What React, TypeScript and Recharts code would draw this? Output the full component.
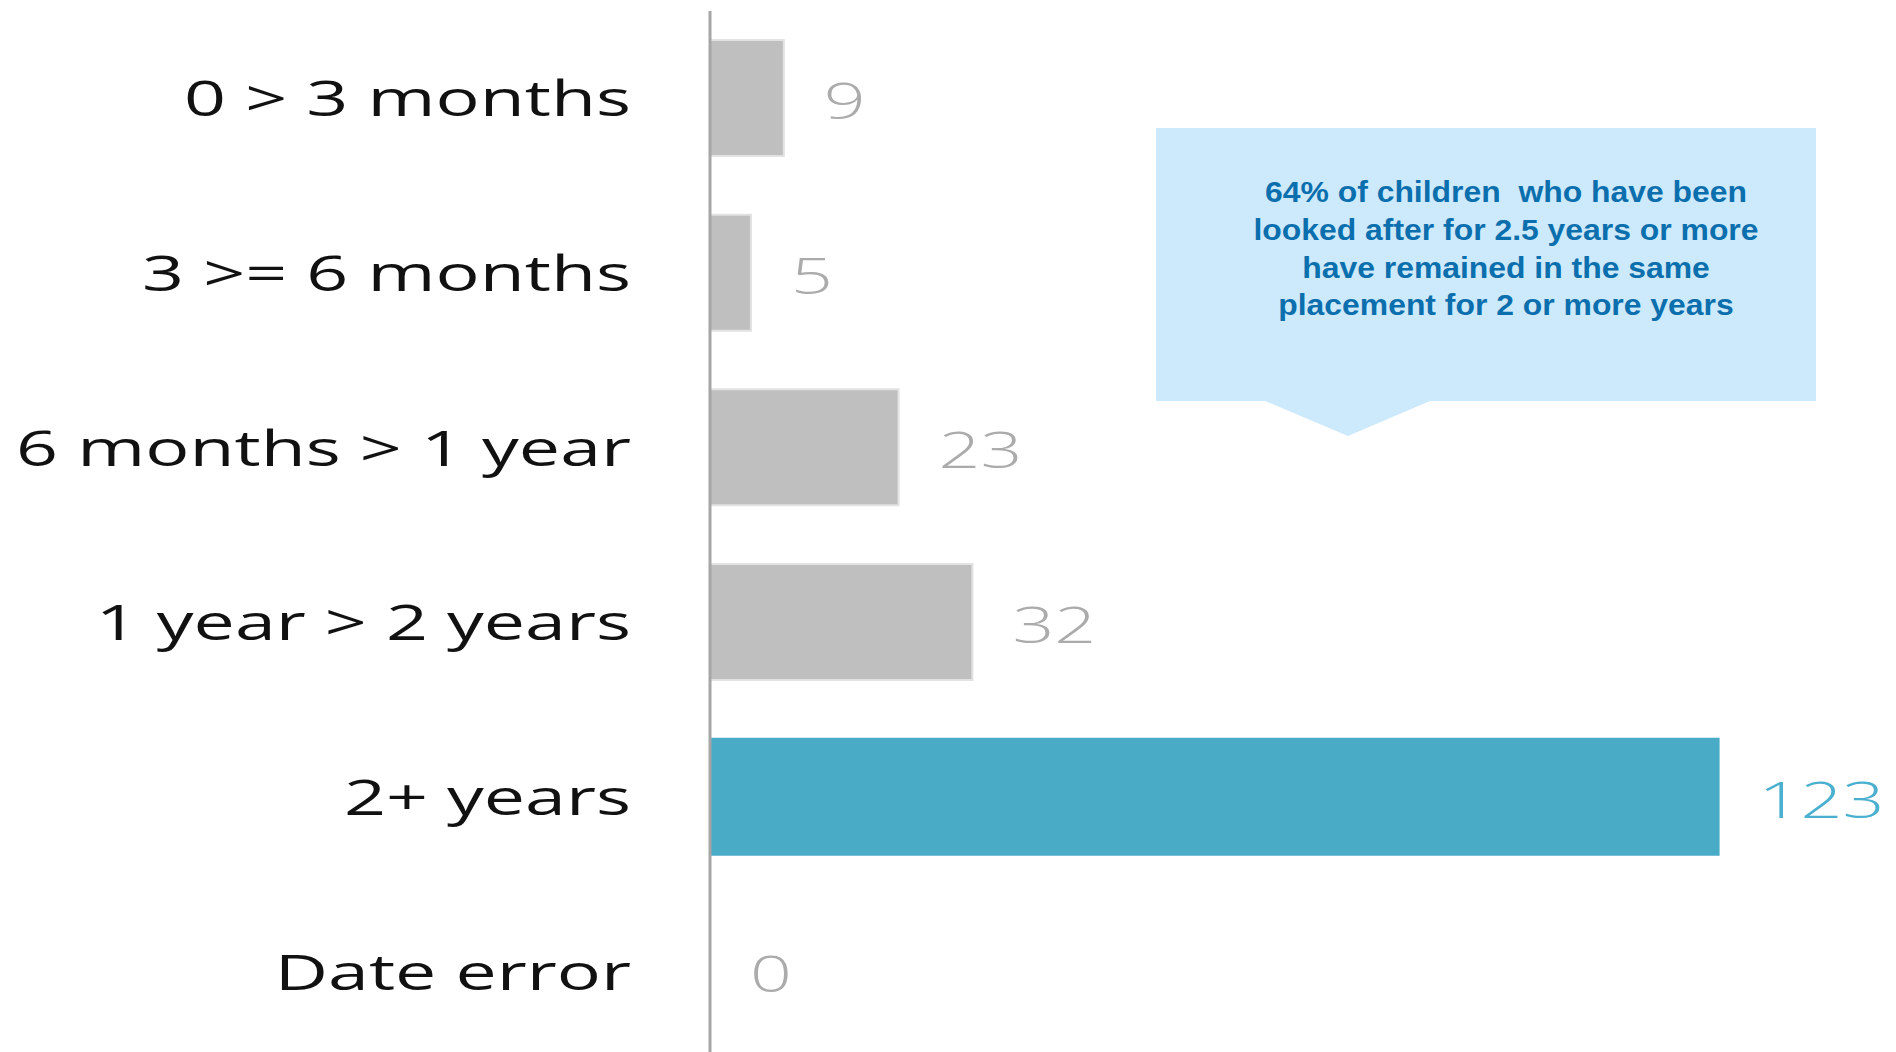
import { BarChart, Bar, XAxis, YAxis, Cell, LabelList } from "recharts";

// placement duration buckets
const categories = [
  "0 > 3 months",
  "3 >= 6 months",
  "6 months > 1 year",
  "1 year > 2 years",
  "2+ years",
  "Date error",
];
const counts = [9, 5, 23, 32, 123, 0];
const highlighted = "2+ years";

const calloutLines = [
  "64% of children  who have been",
  "looked after for 2.5 years or more",
  "have remained in the same",
  "placement for 2 or more years",
];

const data = categories.map((category, i) => ({ category, count: counts[i] }));

const GREY = "#bfbfbf";
const BLUE = "#4aabc6";
// the source picture is stretched sideways, text included
const STRETCH = 1.47;

function CategoryTick(props: any) {
  const { x, y, payload } = props;
  return (
    <g transform={`translate(${x - 79},${y + 18}) scale(${STRETCH},1)`}>
      <text textAnchor="end" fontFamily="'Open Sans', sans-serif" fontSize={50} fill="#111">
        {payload.value}
      </text>
    </g>
  );
}

function ValueLabel(props: any) {
  const vb = props.viewBox ?? props;
  const { x, y, height } = vb;
  const idx = props.index ?? counts.indexOf(props.value);
  const isHi = categories[idx] === highlighted;
  // zero bars get a 1px min size, so measure from the value itself
  const w = props.value === 0 ? 0 : vb.width;
  return (
    <g transform={`translate(${x + w + 40},${y + height / 2 + 21}) scale(${STRETCH},1)`}>
      <text
        fontFamily="'Open Sans', sans-serif"
        fontWeight={300}
        fontSize={50}
        fill={isHi ? "#4bb0cf" : "#ababab"}
      >
        {props.value}
      </text>
    </g>
  );
}

export default function App() {
  return (
    <div style={{ position: "absolute", left: 0, top: 0, width: 1896, height: 1052, overflow: "hidden", background: "#fff" }}>
      <BarChart
        width={1896}
        height={1060}
        data={data}
        layout="vertical"
        margin={{ top: 11, right: 38, bottom: 1, left: 0 }}
      >
        <XAxis type="number" domain={[0, 140]} hide />
        <YAxis
          type="category"
          dataKey="category"
          width={710}
          interval={0}
          tickLine={false}
          tickSize={0}
          tickMargin={0}
          axisLine={{ stroke: "#a6a6a6", strokeWidth: 3 }}
          tick={<CategoryTick />}
        />
        <Bar dataKey="count" barSize={116} minPointSize={1} isAnimationActive={false}>
          {data.map((d) => (
            <Cell
              key={d.category}
              fill={d.category === highlighted ? BLUE : GREY}
              stroke={d.count === 0 ? "none" : d.category === highlighted ? BLUE : "#e2e2e2"}
              strokeWidth={2}
            />
          ))}
          <LabelList dataKey="count" content={<ValueLabel />} />
        </Bar>
      </BarChart>

      {/* callout box */}
      <svg width={1896} height={1052} style={{ position: "absolute", left: 0, top: 0, pointerEvents: "none" }}>
        <path d="M1156,128 L1816,128 L1816,401 L1430,401 L1348,436 L1265,401 L1156,401 Z" fill="#cdeafc" />
        <g transform="translate(1506,0) scale(1.1,1)">
          {calloutLines.map((line, i) => (
            <text
              key={i}
              x={0}
              y={202 + i * 37.8}
              textAnchor="middle"
              fontFamily="'Liberation Sans', Arial, sans-serif"
              fontWeight={700}
              fontSize={29}
              fill="#0b6fae"
              style={{ whiteSpace: "pre" }}
            >
              {line}
            </text>
          ))}
        </g>
      </svg>
    </div>
  );
}
